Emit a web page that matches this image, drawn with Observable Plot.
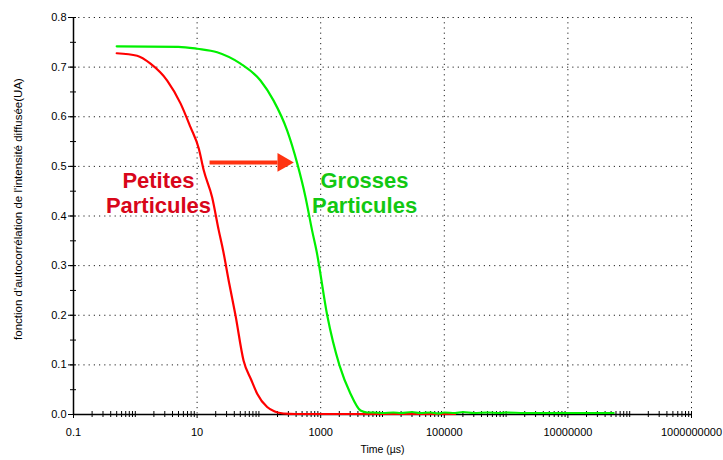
<!DOCTYPE html>
<html>
<head>
<meta charset="utf-8">
<script src="https://cdn.jsdelivr.net/npm/d3@7"></script>
<script src="https://cdn.jsdelivr.net/npm/@observablehq/plot@0.6"></script>
<style>
  html, body { margin: 0; padding: 0; background: #fff; }
  #chart svg { display: block; font-family: "Liberation Sans", Arial, sans-serif; }
</style>
</head>
<body>
<div id="chart"></div>
<script>
// Red curve: small particles (time µs, autocorrelation)
const redTime = [0.5, 1.07, 1.76, 3.28, 5.39, 7.82, 10.7, 12.8, 17.5, 22.4, 26.4, 33, 41.8, 56.4, 75, 93.8, 136, 180, 250, 400, 1000, 3000, 10000, 30000, 100000, 150000];
const redValue = [0.728, 0.723, 0.707, 0.673, 0.627, 0.579, 0.535, 0.492, 0.438, 0.371, 0.33, 0.265, 0.20, 0.109, 0.07, 0.042, 0.015, 0.006, 0.002, 0.001, 0.001, 0.001, 0.001, 0.001, 0.001, 0.001];

// Green curve: large particles
const greenTime = [0.5, 5.0, 10.1, 21.1, 50.4, 106, 172, 287, 417, 568, 728, 855, 1274, 2014, 3034, 4406, 5653, 7000, 10000, 15000, 20000, 30000, 40000, 60000, 80000, 100000, 150000, 200000, 300000, 500000, 800000, 1000000, 2000000, 5000000, 10000000, 20000000, 55000000];
const greenValue = [0.742, 0.741, 0.737, 0.730, 0.707, 0.673, 0.633, 0.572, 0.506, 0.438, 0.370, 0.33, 0.20, 0.099, 0.042, 0.008, 0.004, 0.004, 0.003, 0.004, 0.003, 0.005, 0.003, 0.004, 0.002, 0.004, 0.003, 0.005, 0.003, 0.004, 0.003, 0.004, 0.003, 0.003, 0.003, 0.003, 0.003];

// Axis ticks
const xTicks = [0.1, 10, 1000, 100000, 10000000, 1000000000];
const xTickLabels = ["0.1", "10", "1000", "100000", "10000000", "1000000000"];
const yTicks = [0, 0.1, 0.2, 0.3, 0.4, 0.5, 0.6, 0.7, 0.8];
const yMinor = [0.05, 0.1, 0.15, 0.2, 0.25, 0.3, 0.35, 0.4, 0.45, 0.5, 0.55, 0.6, 0.65, 0.7, 0.75, 0.8];
const decades = [0.1, 1, 10, 100, 1000, 10000, 100000, 1e6, 1e7, 1e8];
const xMinor = decades.flatMap(d => [2, 3, 4, 5, 6, 7, 8, 9].map(m => d * m)).concat([1, 100, 10000, 1e6, 1e8, 1e9]);

// Annotations (data coordinates)
const smallLabel = ["Petites", "Particules"];
const smallLabelPos = [[2.37, 0.4715], [2.37, 0.421]];
const largeLabel = ["Grosses", "Particules"];
const largeLabelPos = [[5120, 0.4715], [5120, 0.421]];
const arrowFrom = [15.9, 0.508];
const arrowShaftEnd = [200, 0.508];
const arrowTo = [245, 0.508];

const redData = redTime.map((t, i) => ({t, v: redValue[i]}));
const greenData = greenTime.map((t, i) => ({t, v: greenValue[i]}));
const fmt = new Map(xTicks.map((t, i) => [t, xTickLabels[i]]));

const plot = Plot.plot({
  width: 723,
  height: 460,
  marginLeft: 73,
  marginRight: 32,
  marginTop: 17,
  marginBottom: 46,
  style: {fontFamily: "Liberation Sans, Arial, sans-serif", fontSize: "11px", color: "#000", background: "#fff"},
  x: {type: "log", domain: [0.1, 1e9]},
  y: {domain: [0, 0.8]},
  marks: [
    Plot.gridY(yTicks.slice(1), {stroke: "#222", strokeOpacity: 1, strokeDasharray: "1.2,4", strokeWidth: 1}),
    Plot.gridX(xTicks.slice(1), {stroke: "#222", strokeOpacity: 1, strokeDasharray: "1.2,4", strokeWidth: 1}),
    Plot.axisY(yTicks, {tickSize: 5, tickPadding: 2, tickFormat: d => d.toFixed(1), label: null, fontSize: 11}),
    Plot.axisX(xTicks, {tickSize: 4, tickPadding: 10, tickFormat: d => fmt.get(d), label: null, fontSize: 11}),
    Plot.ruleY(yMinor, {y: d => d, x1: 0.1, x2: 0.1, insetLeft: -3, insetRight: -3, stroke: "#000"}),
    Plot.ruleX(xMinor, {x: d => d, y1: 0, y2: 0, insetTop: -3, insetBottom: -3, stroke: "#000"}),
    Plot.ruleX([0.1], {stroke: "#000", strokeWidth: 1.5}),
    Plot.ruleY([0], {stroke: "#000", strokeWidth: 1.5}),
    Plot.line(redData, {x: "t", y: "v", stroke: "#ff0000", strokeWidth: 2.2, curve: "monotone-x"}),
    Plot.line(greenData, {x: "t", y: "v", stroke: "#00f000", strokeWidth: 2.2, curve: "monotone-x"}),
    Plot.text(smallLabel, {x: (d, i) => smallLabelPos[i][0], y: (d, i) => smallLabelPos[i][1], text: d => d, fill: "#d8061a", fontSize: 22, fontWeight: "bold"}),
    Plot.text(largeLabel, {x: (d, i) => largeLabelPos[i][0], y: (d, i) => largeLabelPos[i][1], text: d => d, fill: "#12c812", fontSize: 22, fontWeight: "bold"}),
    Plot.link([0], {x1: () => arrowFrom[0], y1: () => arrowFrom[1], x2: () => arrowShaftEnd[0], y2: () => arrowShaftEnd[1], stroke: "#ff3311", strokeWidth: 4}),
    Plot.dot([0], {x: () => arrowTo[0], y: () => arrowTo[1], symbol: "triangle", rotate: 90, r: 7, fill: "#ff3311", stroke: "none"}),
    Plot.text(["fonction d'autocorrélation de l'intensité diffusée(UA)"], {frameAnchor: "left", textAnchor: "middle", rotate: -90, dx: -55, dy: -7, fontSize: 11.5, fill: "#000"}),
    Plot.text(["Time (µs)"], {frameAnchor: "bottom", dy: 38, fontSize: 10.5, fill: "#000"})
  ]
});
document.getElementById("chart").appendChild(plot);
</script>
</body>
</html>
